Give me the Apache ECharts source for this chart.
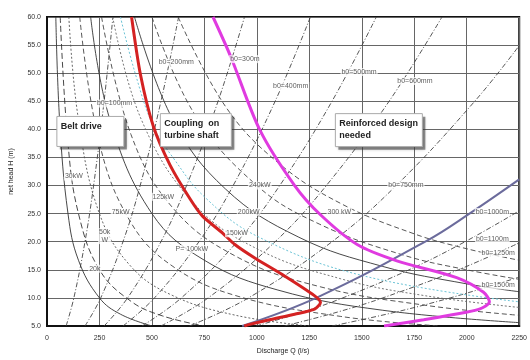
<!DOCTYPE html>
<html><head><meta charset="utf-8">
<script src="https://cdn.jsdelivr.net/npm/echarts@6/dist/echarts.min.js"></script>
<style>html,body{margin:0;padding:0;background:#fff}#c{width:530px;height:360px}</style>
</head><body><div id="c"></div>
<script>
// ---- axes ----
const xMin = 0, xMax = 2250, xStep = 250;
const yMin = 5, yMax = 60, yStep = 5;

// ---- runner width lines b0 (Q l/s, H m) ----
const b0_100 = [[91,5],[128,10],[181,20],[222,30],[272,45],[314,60]];
const b0_200 = [[181,5],[256,10],[362,20],[444,30],[543,45],[627,60]];
const b0_300 = [[272,5],[384,10],[543,20],[665,30],[815,45],[941,60]];
const b0_400 = [[362,5],[512,10],[724,20],[887,30],[1087,45],[1255,60]];
const b0_500 = [[453,5],[640,10],[906,20],[1109,30],[1358,45],[1569,60]];
const b0_600 = [[543,5],[768,10],[1087,20],[1331,30],[1630,45],[1882,60]];
const b0_750 = [[679,5],[960,10],[1358,20],[1664,30],[2038,45],[2250,54.9]];
const b0_1000 = [[930,5],[1288,10.1],[1811,20.2],[2013,25],[2250,31.1]];
const b0_1100 = [[996,5],[1220,7.5],[1409,10],[1725,15],[1992,20],[2250,25.5]];
const b0_1250 = [[1132,5],[1386,7.5],[1600,10],[1960,15],[2250,19.8]];
const b0_1500 = [[1358,5],[1664,7.5],[1921,10],[2146,12.5],[2250,13.7]];

// ---- power lines ----
const p20 = [[42,60],[60,41.7],[100,25],[150,16.7],[250,10],[350,7.1],[500,5]];
const p30 = [[63,60],[100,37.5],[150,25],[250,15],[400,9.4],[550,6.8],[750,5]];
const p50 = [[104,60],[150,41.7],[250,25],[400,15.6],[600,10.4],[900,6.9],[1250,5]];
const p75 = [[156,60],[250,37.5],[400,23.4],[600,15.6],[900,10.4],[1400,6.7],[1875,5]];
const p100 = [[208,60],[300,41.7],[500,25],[750,16.7],[1100,11.4],[1600,7.8],[2250,5.6]];
const p125 = [[260,60],[400,39.1],[600,26],[900,17.4],[1300,12],[1800,8.7],[2250,6.9]];
const p150 = [[313,60],[450,41.7],[700,26.8],[1000,18.75],[1400,13.4],[1800,10.4],[2250,8.3]];
const p200 = [[417,60],[600,41.7],[850,29.4],[1200,20.8],[1600,15.6],[2000,12.5],[2250,11.1]];
const p240 = [[500,60],[700,42.9],[1000,30],[1300,23.1],[1700,17.6],[2000,15],[2250,13.3]];
const p300 = [[625,60],[850,44.1],[1100,34.1],[1400,26.8],[1750,21.4],[2000,18.75],[2250,16.7]];
const cyanLine = [[350,60],[420,50],[507,40.5],[600,35],[750,28],[1000,21],[1500,14],[2250,9.3]];

// ---- boundary curves ----
const redCurve = [[403,60],[445,49.8],[507,40.5],[587,33.6],[682,27.6],[740,24.6],[838,21.5],[895,19.5],[990,17.1],[1132,13.9],[1274,10.4],[1303,9.2],[1275,8.0],[1180,7.1],[1060,6.1],[957,5.2],[940,5.0]];
const magentaCurve = [[791,60],[877,52.8],[1014,39.9],[1180,30],[1303,24.8],[1478,19.5],[1667,16.6],[1952,13.6],[2080,11],[2108,9.3],[2060,8.0],[1930,7.0],[1795,6.1],[1606,5.0]];

// ---- line labels ----
const lineLabelText = ['b0=100mm','b0=200mm','b0=300m','b0=400mm','b0=500mm','b0=600mm','b0=750mm','b0=1000m','b0=1100m','b0=1250m','b0=1500m','30kW','75kW','125kW','50k\nW','20k','P= 100kW','150kW','200kW','240kW','300 kW'];
const lineLabelQ = [322,616,943,1161,1487,1753,1710,2122,2122,2150,2150,128,351,554,275,228,690,905,961,1014,1393];
const lineLabelH = [44.6,51.9,52.5,47.7,50.2,48.6,30,25.3,20.4,18.0,12.2,31.6,25.3,28,21,15.2,18.7,21.5,25.3,30,25.3];

// ---- region boxes (top-left corner in data units) ----
const boxText = ['Belt drive','Coupling  on\nturbine shaft','Reinforced design\nneeded'];
const boxQ = [47,540,1374];
const boxH = [42.3,42.8,42.8];
const boxW = [67,71,87];
const boxHt = [30,33,33];

function ln(data, color, width, type, z, smooth){
  return {type:'line', data:data, showSymbol:false, symbol:'none', silent:true, smooth: smooth===undefined?0.4:smooth,
    lineStyle:{color:color, width:width, type:type||'solid'}, z:z||2, animation:false};
}
const FONT = 'Liberation Sans, Arial, sans-serif';
const dashDot = [5,2,1,2];
const series = [
  ln(b0_100,'#444',0.9,dashDot), ln(b0_200,'#444',0.9,dashDot), ln(b0_300,'#444',0.9,dashDot),
  ln(b0_400,'#444',0.9,dashDot), ln(b0_500,'#444',0.9,dashDot), ln(b0_600,'#444',0.9,dashDot),
  ln(b0_750,'#444',0.9,dashDot), ln(b0_1100,'#444',0.9,dashDot), ln(b0_1250,'#444',0.9,dashDot),
  ln(b0_1500,'#444',0.9,dashDot),
  ln(p20,'#333',0.9,'solid'), ln(p30,'#333',0.9,[6,3]), ln(p50,'#555',0.9,[2,2]),
  ln(p75,'#444',0.9,[5,3]), ln(p100,'#333',0.9,'solid'), ln(p125,'#444',0.9,[5,3]),
  ln(p150,'#666',0.9,[2,2]), ln(p200,'#333',0.9,'solid'), ln(p240,'#444',0.9,[5,3]),
  ln(p300,'#444',0.9,[5,3]),
  ln(cyanLine,'#6cc3d5',1,[2,2]),
  ln(b0_1000,'#6b6b9c',2,'solid',4),
  ln(redCurve,'#d42222',3,'solid',5,0.25),
  ln(magentaCurve,'#e03be0',3,'solid',5,0.3),
  {type:'scatter', symbolSize:0, silent:true, z:6, animation:false,
    data: lineLabelText.map((t,i)=>({value:[lineLabelQ[i],lineLabelH[i]], name:t})),
    label:{show:true, position:'inside', formatter:p=>p.name, fontSize:7, lineHeight:8, color:'#333',
      fontFamily:FONT, backgroundColor:'rgba(255,255,255,0.9)', padding:[0,1]}},
  {type:'custom', silent:true, z:8, clip:false, animation:false,
    data: boxQ.map((q,i)=>[q, boxH[i], i]),
    renderItem:(params, api)=>{
      const p = api.coord([api.value(0), api.value(1)]);
      const i = api.value(2);
      return {type:'group', children:[
        {type:'rect', shape:{x:p[0]+3, y:p[1]+3, width:boxW[i], height:boxHt[i]},
          style:{fill:'rgba(60,60,60,0.55)', shadowBlur:3, shadowColor:'rgba(0,0,0,0.5)'}},
        {type:'rect', shape:{x:p[0], y:p[1], width:boxW[i], height:boxHt[i]},
          style:{fill:'#fff', stroke:'#aaa', lineWidth:1}},
        {type:'text', x:p[0]+4, y:p[1]+4,
          style:{text:boxText[i], font:'bold 9px '+FONT, fill:'#222', lineHeight:12, textVerticalAlign:'top'}}
      ]};
    }}
];

const chart = echarts.init(document.getElementById('c'), null, {renderer:'canvas'});
chart.setOption({
  animation:false,
  grid:{left:47, right:7, top:17, bottom:29, show:true, borderColor:'#111', borderWidth:2, backgroundColor:'#fff'},
  xAxis:{type:'value', min:xMin, max:xMax, interval:xStep,
    name:'Discharge Q (l/s)', nameLocation:'middle', nameGap:22,
    nameTextStyle:{fontSize:7, color:'#222', fontFamily:FONT},
    axisLine:{show:true, lineStyle:{color:'#111', width:2}}, axisTick:{show:false},
    axisLabel:{fontSize:7, color:'#333', margin:9, formatter:v=>String(v), fontFamily:FONT},
    splitLine:{show:true, lineStyle:{color:'#666', width:1}}},
  yAxis:{type:'value', min:yMin, max:yMax, interval:yStep,
    name:'net head H (m)', nameLocation:'middle', nameGap:32, nameRotate:90,
    nameTextStyle:{fontSize:7, color:'#222', fontFamily:FONT},
    axisLine:{show:true, lineStyle:{color:'#111', width:2}}, axisTick:{show:false},
    axisLabel:{fontSize:7, color:'#333', margin:6, formatter:v=>v.toFixed(1), fontFamily:FONT},
    splitLine:{show:true, lineStyle:{color:'#666', width:1}}},
  series: series
});
</script></body></html>
